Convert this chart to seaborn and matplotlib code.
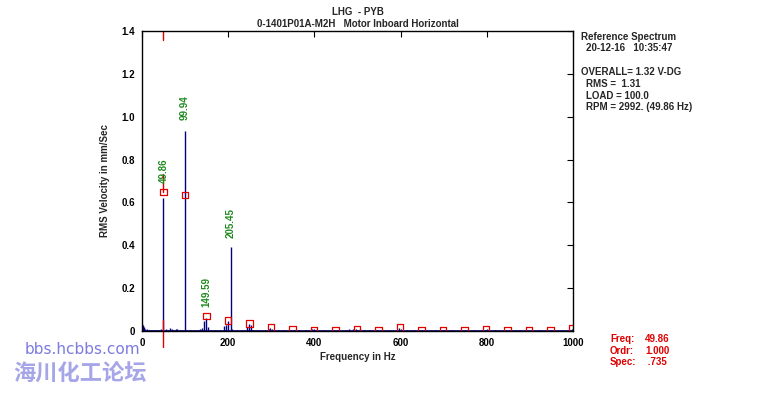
import numpy as np
import pandas as pd
import matplotlib
matplotlib.use("Agg")
import matplotlib.pyplot as plt
import seaborn as sns

# spectrum lines (Hz, mm/s RMS)
freqs = [0, 2.5, 5, 8, 12, 16, 20, 25, 30, 35, 40, 45, 49.86, 55, 60, 65, 70, 78, 82, 88, 94,
         99.94, 105, 112, 120, 128, 135, 140, 144, 149.59, 153, 160, 170, 180, 190, 196, 200,
         205.45, 210, 220, 232, 244, 248, 252, 258, 270, 285, 294, 298, 302, 315, 330, 345,
         352, 365, 380, 395, 400, 405, 420, 440, 455, 470, 480, 490, 497, 505, 515, 530, 545,
         560, 575, 590, 597, 600, 605, 615, 630, 650, 680, 700, 720, 750, 770, 795, 800, 820,
         845, 855, 865, 875, 890, 920, 950, 975, 997]
amps = [0.035, 0.03, 0.02, 0.012, 0.008, 0.006, 0.005, 0.004, 0.005, 0.004, 0.006, 0.012, 0.62,
        0.01, 0.006, 0.015, 0.008, 0.012, 0.01, 0.006, 0.005, 0.935, 0.006, 0.004, 0.005, 0.004,
        0.008, 0.015, 0.045, 0.062, 0.02, 0.006, 0.004, 0.005, 0.025, 0.03, 0.045, 0.393, 0.01,
        0.004, 0.006, 0.02, 0.035, 0.03, 0.006, 0.004, 0.004, 0.012, 0.015, 0.008, 0.004, 0.003,
        0.004, 0.006, 0.003, 0.004, 0.008, 0.01, 0.006, 0.003, 0.004, 0.003, 0.006, 0.008, 0.01,
        0.012, 0.008, 0.006, 0.005, 0.004, 0.006, 0.004, 0.006, 0.015, 0.012, 0.006, 0.004,
        0.003, 0.004, 0.003, 0.003, 0.003, 0.004, 0.003, 0.006, 0.008, 0.003, 0.006, 0.007,
        0.006, 0.005, 0.003, 0.003, 0.003, 0.003, 0.01]

# harmonic markers of running speed
harm_freqs = [49.86, 99.72, 149.59, 199.45, 249.3, 299.2, 349.0, 398.9, 448.7, 498.6, 548.5,
              598.3, 648.2, 698.0, 747.9, 797.8, 847.6, 897.5, 947.3, 997.2]
harm_amps = [0.649, 0.635, 0.07, 0.05, 0.036, 0.017, 0.008, 0.005, 0.002, 0.008, 0.002, 0.017,
             0.002, 0.002, 0.002, 0.007, 0.002, 0.002, 0.002, 0.012]

# labelled peaks
peak_labels = ["49.86", "99.94", "149.59", "205.45"]
peak_freqs = [49.86, 99.94, 149.59, 205.45]
peak_label_y = [0.69, 0.985, 0.112, 0.434]

cursor_freq = 49.86
cursor_val = 0.735

sns.set_style("white")
plt.rcParams["font.family"] = ["Liberation Sans", "DejaVu Sans"]

fig = plt.figure(figsize=(7.59, 3.97), dpi=100)
ax = fig.add_axes([0.187, 0.166, 0.568, 0.756])

ax.vlines(freqs, 0, amps, color="#000080", lw=1.0)
ax.axhline(0.002, color="#000080", lw=1.2)

harm_df = pd.DataFrame({"Hz": harm_freqs, "amp": harm_amps})
sns.scatterplot(data=harm_df, x="Hz", y="amp", marker="s", s=22, facecolor="none",
                edgecolor="#e00000", linewidth=0.9, ax=ax, zorder=5)

# cursor
ax.plot([cursor_freq, cursor_freq], [1.4, 1.36], color="#e00000", lw=1)
ax.plot([cursor_freq, cursor_freq], [0.05, -0.075], color="#e00000", lw=1, clip_on=False)
ax.plot([cursor_freq, cursor_freq], [harm_amps[0], cursor_val], color="#e00000", lw=1)

for lab, f, y in zip(peak_labels, peak_freqs, peak_label_y):
    ax.text(f, y, lab, rotation=90, ha="center", va="bottom", color="#1e8a1e",
            fontsize=7, fontweight="bold")

ax.set_xlim(0, 1000)
ax.set_ylim(0, 1.4)
ax.set_xticks([0, 200, 400, 600, 800, 1000])
ax.set_yticks([0, 0.2, 0.4, 0.6, 0.8, 1.0, 1.2, 1.4])
ax.set_yticklabels(["0", "0.2", "0.4", "0.6", "0.8", "1.0", "1.2", "1.4"])
ax.tick_params(direction="in", top=True, right=True, length=4, width=0.8,
               labelsize=7, pad=5, colors="black")
for t in ax.get_xticklabels() + ax.get_yticklabels():
    t.set_fontweight("bold")
for s in ax.spines.values():
    s.set_color("black")
    s.set_linewidth(1)
ax.set_xlabel("Frequency in Hz", fontsize=7, fontweight="bold", labelpad=3)
ax.set_ylabel("RMS Velocity in mm/Sec", fontsize=7, fontweight="bold", labelpad=8)

fig.text(0.472, 0.970, "LHG  - PYB", ha="center", va="center", fontsize=7, fontweight="bold")
fig.text(0.472, 0.940, "0-1401P01A-M2H   Motor Inboard Horizontal", ha="center", va="center",
         fontsize=7, fontweight="bold")

info = [(581, 37, "Reference Spectrum"), (586, 48, "20-12-16   10:35:47"),
        (581, 72, "OVERALL= 1.32 V-DG"), (586, 84, "RMS =  1.31"),
        (586, 96, "LOAD = 100.0"), (586, 107, "RPM = 2992. (49.86 Hz)")]
for x, y, s in info:
    fig.text(x / 759, 1 - y / 397, s, ha="left", va="center", fontsize=7, fontweight="bold")

cur = [(339, "Freq:", "49.86"), (351, "Ordr:", "1.000"), (362, "Spec:", " .735")]
for y, a, b in cur:
    fig.text(610 / 759, 1 - y / 397, a, ha="left", va="center", fontsize=7,
             fontweight="bold", color="#e00000")
    fig.text(645 / 759, 1 - y / 397, b, ha="left", va="center", fontsize=7,
             fontweight="bold", color="#e00000")

# watermark
fig.text(25 / 759, 1 - 350 / 397, "bbs.hcbbs.com", ha="left", va="center", fontsize=11,
         color="#7b7be0", family=["DejaVu Sans"])
fig.text(13 / 759, 1 - 374 / 397, "海川化工论坛", ha="left", va="center", fontsize=16,
         fontweight="bold", color="#9b9be6", alpha=0.9,
         family=["Noto Sans CJK SC", "DejaVu Sans"])

fig.savefig("out.png", dpi=100, facecolor="white")
